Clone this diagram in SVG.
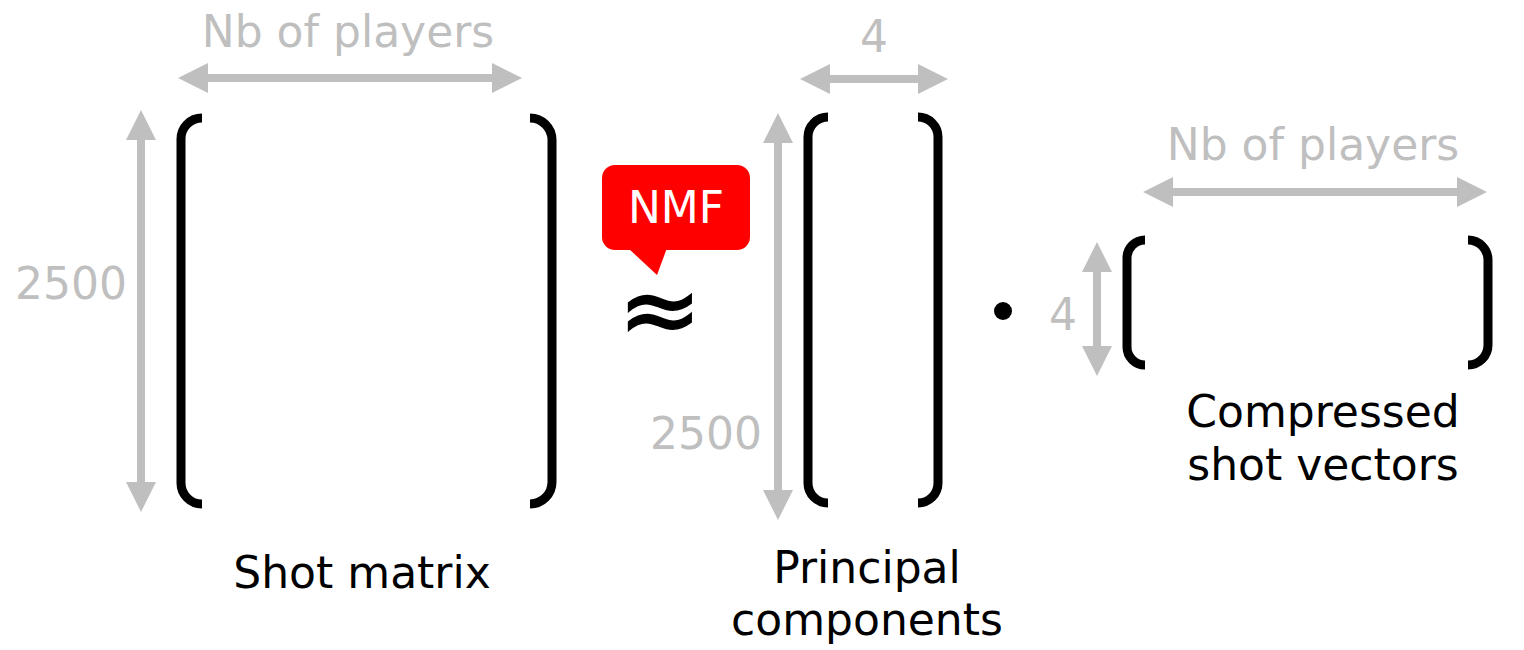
<svg xmlns="http://www.w3.org/2000/svg" width="1524" height="650" viewBox="0 0 1524 650">
<style>
.br{fill:none;stroke:#000;stroke-width:9;stroke-linecap:butt}
.ar{stroke:#bfbfbf;stroke-width:8;fill:none}
.g{font-family:"DejaVu Sans",Verdana,sans-serif;font-size:44px;fill:#bfbfbf;text-anchor:middle}
.t{font-family:"DejaVu Sans",Verdana,sans-serif;font-size:44px;fill:#000;text-anchor:middle}
</style>
<defs>
<marker id="ah" viewBox="0 0 30 30" refX="0" refY="15" markerWidth="30" markerHeight="30" markerUnits="userSpaceOnUse" orient="auto-start-reverse">
<path d="M0 0 L30 15 L0 30 Z" fill="#bfbfbf"/>
</marker>
</defs>
<rect width="1524" height="650" fill="#fff"/>
<g id="shot-matrix">
<path class="br" d="M202 118 A21 21 0 0 0 181 139 V483 A21 21 0 0 0 202 504"/>
<path class="br" d="M530 118 A22 22 0 0 1 552 140 V482 A22 22 0 0 1 530 504"/>
<text class="t" x="362" y="588">Shot matrix</text>
</g>
<g id="principal-components">
<path class="br" d="M828 117 A20 20 0 0 0 808 137 V483 A20 20 0 0 0 828 503"/>
<path class="br" d="M918 117 A20 20 0 0 1 938 137 V483 A20 20 0 0 1 918 503"/>
<text class="t" x="867" y="583">Principal</text>
<text class="t" x="867" y="635">components</text>
</g>
<g id="compressed-vectors">
<path class="br" d="M1145 240 A18 18 0 0 0 1127 258 V347 A18 18 0 0 0 1145 365"/>
<path class="br" d="M1468 240 A20 20 0 0 1 1488 260 V345 A20 20 0 0 1 1468 365"/>
<text class="t" x="1323" y="427">Compressed</text>
<text class="t" x="1323" y="480">shot vectors</text>
</g>
<g id="nmf-label">
<rect x="602" y="165" width="148" height="85" rx="13" fill="#ff0000"/>
<path d="M628 248 L657 275 L667 248 Z" fill="#ff0000"/>
<text x="676" y="223" font-family="DejaVu Sans,Verdana,sans-serif" font-size="44" fill="#fff" text-anchor="middle">NMF</text>
</g>
<g id="operators">
<text x="660" y="344" font-family="DejaVu Sans,sans-serif" font-size="100" fill="#000" stroke="#000" stroke-width="1.5" text-anchor="middle">≈</text>
<circle cx="1003" cy="311" r="9" fill="#000"/>
</g>
<g id="dimensions">
<line class="ar" x1="208" y1="78" x2="492" y2="78" marker-start="url(#ah)" marker-end="url(#ah)"/>
<line class="ar" x1="141" y1="140" x2="141" y2="482" marker-start="url(#ah)" marker-end="url(#ah)"/>
<line class="ar" x1="830" y1="79" x2="918" y2="79" marker-start="url(#ah)" marker-end="url(#ah)"/>
<line class="ar" x1="778" y1="143" x2="778" y2="490" marker-start="url(#ah)" marker-end="url(#ah)"/>
<line class="ar" x1="1173" y1="192" x2="1457" y2="192" marker-start="url(#ah)" marker-end="url(#ah)"/>
<line class="ar" x1="1097" y1="272" x2="1097" y2="346" marker-start="url(#ah)" marker-end="url(#ah)"/>
<text class="g" x="348" y="47">Nb of players</text>
<text class="g" x="71" y="299">2500</text>
<text class="g" x="874" y="52">4</text>
<text class="g" x="706" y="449">2500</text>
<text class="g" x="1313" y="160">Nb of players</text>
<text class="g" x="1063" y="330">4</text>
</g>
</svg>
